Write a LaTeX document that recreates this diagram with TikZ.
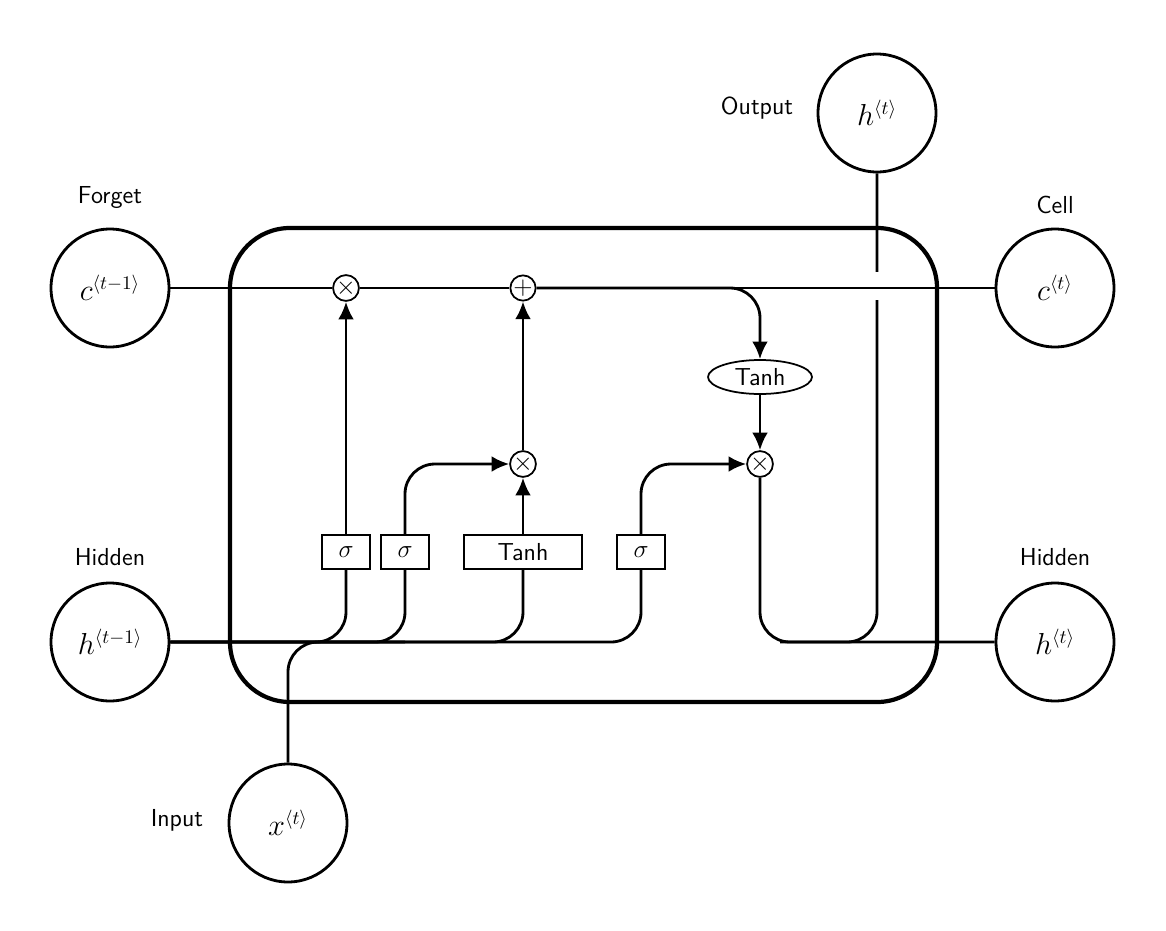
\documentclass[tikz,border=0pt]{standalone}
\usetikzlibrary{shapes.geometric,arrows.meta}
\begin{document}
\begin{tikzpicture}[x=0.02cm,y=-0.02cm,line width=1.6pt,
 font=\sffamily\fontsize{14}{16}\selectfont,
 bigc/.style={circle,draw,minimum size=2.36cm,inner sep=0pt,font=\fontsize{16}{18}\selectfont},
 op/.style={circle,draw,line width=1pt,minimum size=0.5cm,inner sep=0pt},
 gate/.style={rectangle,draw,line width=1pt,minimum height=0.68cm,minimum width=0.96cm,inner sep=0pt},
 rc/.style={rounded corners=0.6cm},
 arr/.style={-{Latex[length=10pt,width=9pt]}}]
\useasboundingbox (0,0) rectangle (1166,930);
\draw[line width=2.4pt,rounded corners=1.2cm] (230,228) rectangle (937,702);
\node[bigc] (c0) at (110,288) {$c^{\langle t-1\rangle}$};
\node[bigc] (h0) at (110,642) {$h^{\langle t-1\rangle}$};
\node[bigc] (x) at (288,823) {$x^{\langle t\rangle}$};
\node[bigc] (out) at (877,113) {$h^{\langle t\rangle}$};
\node[bigc] (c1) at (1055,288) {$c^{\langle t\rangle}$};
\node[bigc] (h1) at (1055,642) {$h^{\langle t\rangle}$};
\node (lf) at (110,198) {Forget};
\node (lh0) at (110,557) {Hidden};
\node (li) at (177,820) {Input};
\node (lo) at (757,108) {Output};
\node (lc) at (1055,205) {Cell};
\node (lh1) at (1055,557) {Hidden};
\node[op] (m1) at (346,288) {$\times$};
\node[op] (ad) at (523,288) {$+$};
\node[op] (m2) at (523,464) {$\times$};
\node[op] (m3) at (760,464) {$\times$};
\node[ellipse,draw,line width=1pt,minimum width=2.08cm,minimum height=0.68cm,inner sep=0pt] (th) at (760,377) {Tanh};
\node[gate] (s1) at (346,552) {$\sigma$};
\node[gate] (s2) at (405,552) {$\sigma$};
\node[gate,minimum width=2.36cm] (tb) at (523,552) {Tanh};
\node[gate] (s3) at (641,552) {$\sigma$};
\coordinate (j) at (780,642);
% output line with gap
\draw[rc] (j) -| (out);
\fill[white] (860,272) rectangle (894,300);
% cell line
\draw (c0) -- (m1) -- (ad) -- (c1);
\draw[rc,arr] (ad) -| (th);
\draw[arr] (th) -- (m3);
\draw[rc] (m3) |- (h1);
% hidden / input
\draw[rc] (h0) -| (s3);
\draw[rc] (h0) -| (s2);
\draw[rc] (h0) -| (s1);
\draw[rc] (h0) -| (tb);
\draw[rc] (x) |- (s2.south |- h0);
\draw[arr] (s1) -- (m1);
\draw[rc,arr] (s2) |- (m2);
\draw[arr] (tb) -- (m2);
\draw[arr] (m2) -- (ad);
\draw[rc,arr] (s3) |- (m3);
\end{tikzpicture}
\end{document}
